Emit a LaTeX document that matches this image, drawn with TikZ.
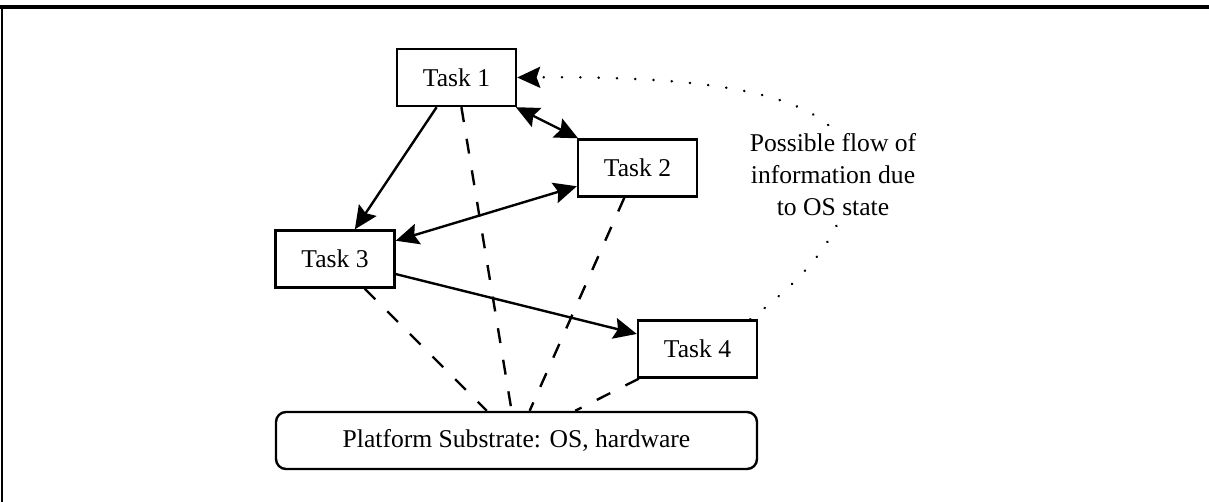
\documentclass[tikz,border=0pt]{standalone}
\usepackage{fontspec}
\setmainfont{Liberation Serif}
\usetikzlibrary{arrows.meta,calc}
\begin{document}
\begin{tikzpicture}[x=0.5pt,y=-0.5pt,
  lbl/.style={font=\fontsize{12.8}{16}\selectfont},
  task/.style={lbl, draw, line width=1.2pt, minimum width=59.5pt, minimum height=28.5pt, inner sep=0pt},
  platbox/.style={lbl, draw, line width=1.2pt, rounded corners=5pt, minimum width=240.5pt, minimum height=28.5pt, inner sep=0pt},
  tip/.style={-{Stealth[length=11.5pt,width=10.5pt,inset=1.8pt]}},
  both/.style={{Stealth[length=11.5pt,width=10.5pt,inset=1.8pt]}-{Stealth[length=11.5pt,width=10.5pt,inset=1.8pt]}},
  solidline/.style={line width=1.2pt},
  dashline/.style={line width=1.2pt, dash pattern=on 7.5pt off 8.5pt},
  dotline/.style={line width=1.3pt, line cap=round, dash pattern=on 0.1pt off 9.05pt}
]
\useasboundingbox (0,0) rectangle (1209,502);
% frame
\draw[line width=1.7pt] (0,7) -- (1209,7);
\draw[line width=1.2pt] (2,5.5) -- (2,502);

% nodes
\node[task] (t1) at (456.5,77.5) {Task 1};
\node[task] (t2) at (637.5,168) {Task 2};
\node[task] (t3) at (335,259) {Task 3};
\node[task] (t4) at (697.5,349) {Task 4};
\node[platbox] (pf) at (516.5,440.5) {Platform Substrate: OS, hardware};

% dashed links to substrate
\draw[dashline] (t1) -- (pf);
\draw[dashline] (t2) -- (pf);
\draw[dashline] (t3) -- (pf);
\draw[dashline] (t4) -- (pf);

% solid arrows
\draw[solidline, tip] (t1) -- (t3);
\draw[solidline, both] (t1) -- (t2);
\draw[solidline, both] (t2) -- (t3);
\draw[solidline, tip] (t3) -- (t4);

% dotted flow
\coordinate (fs) at ($(t4.north east)+(-8,0)$);
\coordinate (fm) at (850,170);
\draw[dotline, tip] (fs) .. controls (805,278) and (850,230) .. (fm)
   .. controls (850,90) and (700,76) .. (t1.east);

\node[lbl, align=center, fill=white, inner sep=0pt] (note) at (833,175)
  {Possible flow of\\information due\\to OS state};
\end{tikzpicture}
\end{document}
